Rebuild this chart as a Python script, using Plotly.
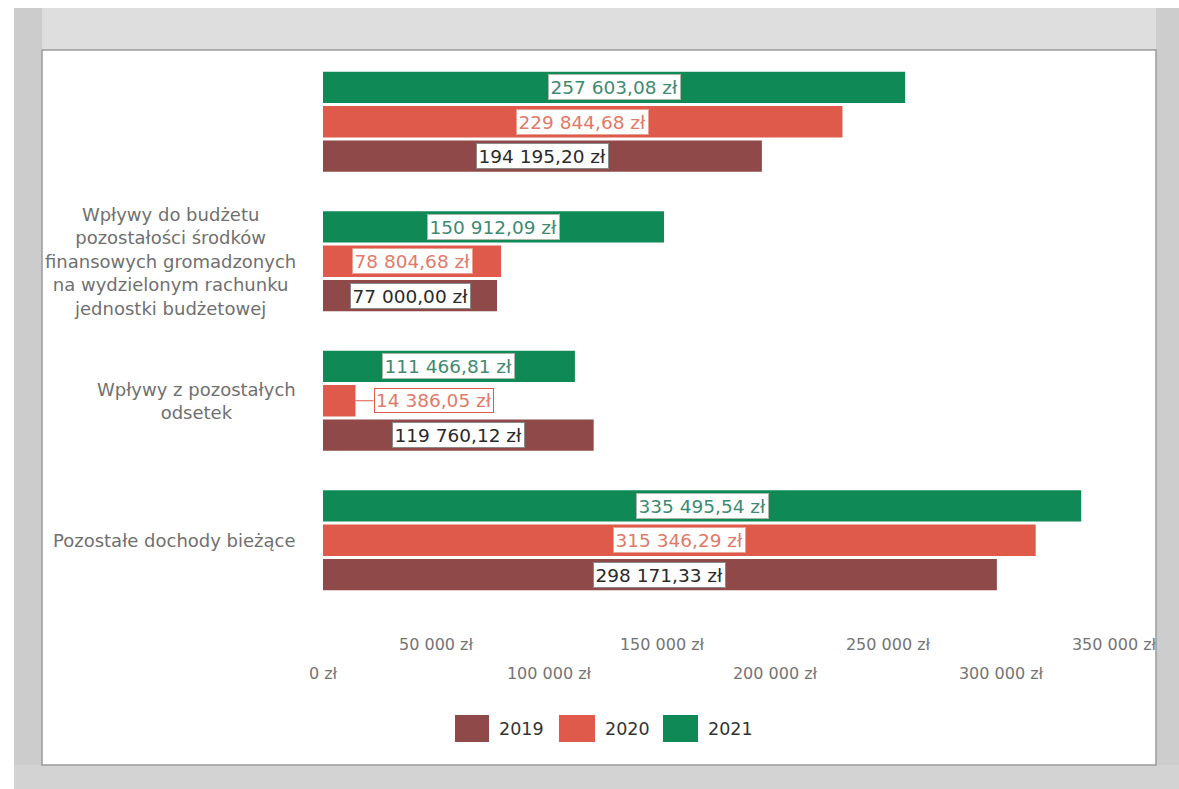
import plotly.graph_objects as go

# Categories listed bottom-to-top (the top group has no visible caption)
categories = [
    "Pozostałe dochody bieżące",
    "Wpływy z pozostałych<br>odsetek",
    "Wpływy do budżetu<br>pozostałości środków<br>finansowych gromadzonych<br>na wydzielonym rachunku<br>jednostki budżetowej",
    " ",
]
years = ["2019", "2020", "2021"]
values_2019 = [298171.33, 119760.12, 77000.00, 194195.20]
values_2020 = [315346.29, 14386.05, 78804.68, 229844.68]
values_2021 = [335495.54, 111466.81, 150912.09, 257603.08]
tick_values = [0, 50000, 100000, 150000, 200000, 250000, 300000, 350000]

series = [values_2019, values_2020, values_2021]
bar_colors = ["#8e4948", "#e05a4b", "#0f8a56"]
label_colors = ["#2a2a2a", "#e07a69", "#3f8a72"]
label_borders = ["#8a8a8a", "#e8a294", "#a9b8a8"]


def zl(v, decimals=2):
    s = f"{v:,.{decimals}f}".replace(",", " ").replace(".", ",")
    return s + " zł"


# Plot-area geometry in pixels
W_PX, H_PX = 1179, 789
L, R, T, B = 323, 1114, 52, 610
PW, PH = R - L, B - T


def px(x):
    return (x - L) / PW


def py(y):
    return (B - y) / PH


BARGAP = 0.26
BARGROUPGAP = 0.09
slot = (1 - BARGAP) / len(series)

fig = go.Figure()
for name, vals, col in zip(years, series, bar_colors):
    fig.add_trace(go.Bar(
        y=categories, x=vals, name=name, orientation="h",
        marker=dict(color=col, line=dict(width=0)),
        showlegend=False, hoverinfo="x+name",
    ))

# helper trace so the second (staggered) tick axis is drawn
fig.add_trace(go.Scatter(x=[0, 350000], y=[categories[0], categories[0]],
                         xaxis="x2", mode="markers", marker=dict(opacity=0),
                         showlegend=False, hoverinfo="skip"))

annotations = []
# value labels in white boxes, centred on each bar
for si, (vals, tcol, bcol) in enumerate(zip(series, label_colors, label_borders)):
    offset = (si - 1) * slot
    for ci, v in enumerate(vals):
        yv = ci + offset
        if v < 40000:
            annotations.append(dict(
                x=v, y=yv, xref="x", yref="y", text=zl(v),
                showarrow=True, arrowhead=0, arrowwidth=1.2, arrowcolor="#e05a4b",
                ax=18, ay=0, xanchor="left", standoff=0,
                font=dict(family="DejaVu Sans", size=18.5, color=tcol),
                bgcolor="white", bordercolor="#e05a4b", borderwidth=1, borderpad=1,
            ))
        else:
            annotations.append(dict(
                x=v / 2, y=yv, xref="x", yref="y", text=zl(v), showarrow=False,
                font=dict(family="DejaVu Sans", size=18.5, color=tcol),
                bgcolor="white", bordercolor=bcol, borderwidth=1, borderpad=1.5,
            ))

# category captions, centred lines
for ci, cat in enumerate(categories):
    annotations.append(dict(
        x=0, y=ci, xref="paper", yref="y", text=cat, showarrow=False,
        xanchor="right", xshift=-25, align="center",
        font=dict(family="DejaVu Sans", size=18, color="#707070"),
    ))

# legend
legend_boxes = [(455, 489), (559, 595), (663, 698)]
shapes = []
for (x0, x1), name, col in zip(legend_boxes, years, bar_colors):
    shapes.append(dict(type="rect", xref="paper", yref="paper",
                       x0=px(x0), x1=px(x1), y0=py(742), y1=py(715),
                       fillcolor=col, line=dict(width=0)))
    annotations.append(dict(x=px(x1 + 8), y=py(729), xref="paper", yref="paper",
                            text=name, showarrow=False, xanchor="left", yanchor="middle",
                            font=dict(family="DejaVu Sans", size=17.5, color="#333333")))

# gray frame around the white panel
for x0, x1, y0, y1, c in [
    (14, W_PX, 8, 50, "#dedede"),
    (14, 42, 8, H_PX, "#cccccc"),
    (1156, W_PX, 8, H_PX, "#cdcdcd"),
    (14, W_PX, 765, H_PX, "#d3d3d3"),
]:
    shapes.append(dict(type="rect", xref="paper", yref="paper", layer="above",
                       x0=px(x0), x1=px(x1), y0=py(y1), y1=py(y0),
                       fillcolor=c, line=dict(width=0)))
shapes.append(dict(type="rect", xref="paper", yref="paper", layer="above",
                   x0=px(42), x1=px(1156), y0=py(765), y1=py(50),
                   fillcolor="rgba(0,0,0,0)", line=dict(color="#9a9a9a", width=1.5)))

odd_ticks = [t for i, t in enumerate(tick_values) if i % 2 == 1]
even_ticks = [t for i, t in enumerate(tick_values) if i % 2 == 0]
tick_font = dict(family="DejaVu Sans", size=16, color="#747474")

fig.update_layout(
    width=W_PX, height=H_PX,
    margin=dict(l=L, r=W_PX - R, t=T, b=H_PX - B),
    paper_bgcolor="white", plot_bgcolor="white",
    barmode="group", bargap=BARGAP, bargroupgap=BARGROUPGAP,
    xaxis=dict(range=[0, 350000], tickvals=odd_ticks,
               ticktext=[zl(t, 0) for t in odd_ticks],
               showgrid=False, zeroline=False, showline=False, ticks="",
               tickfont=tick_font, ticklabelstandoff=23),
    xaxis2=dict(range=[0, 350000], overlaying="x", anchor="y", side="bottom",
                matches="x", tickvals=even_ticks,
                ticktext=[zl(t, 0) for t in even_ticks],
                showgrid=False, zeroline=False, showline=False, ticks="",
                tickfont=tick_font, ticklabelstandoff=52),
    yaxis=dict(type="category", categoryorder="array", categoryarray=categories,
               showticklabels=False, showgrid=False, zeroline=False, ticks=""),
    annotations=annotations,
    shapes=shapes,
    showlegend=False,
)

fig.write_html("out.html")
